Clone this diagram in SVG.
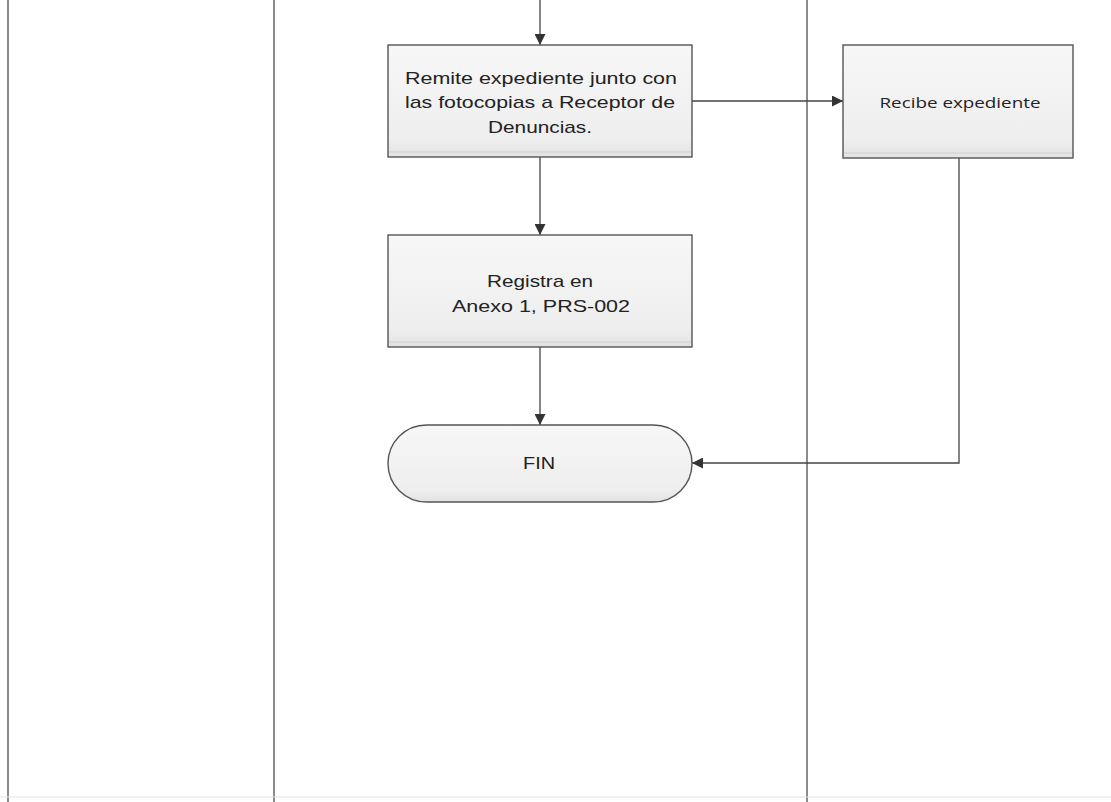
<svg xmlns="http://www.w3.org/2000/svg" width="1111" height="802" viewBox="0 0 1111 802">
  <style>
    .lane { stroke: #6e6e6e; stroke-width: 1.6; fill: none; }
    .box { fill: url(#boxFill); stroke: #555; stroke-width: 1.4; }
    .edge { stroke: #444; stroke-width: 1.3; fill: none; marker-end: url(#arrow); }
    .lbl { font-family: "Liberation Sans", Arial, sans-serif; font-size: 17px; fill: #222; text-anchor: middle; }
    .lbl2 { font-family: "Open Sans", "DejaVu Sans", sans-serif; font-size: 15px; fill: #222; text-anchor: middle; }
  </style>
  <defs>
    <linearGradient id="boxFill" x1="0" y1="0" x2="0" y2="1">
      <stop offset="0" stop-color="#f7f7f7"/>
      <stop offset="0.85" stop-color="#eeeeee"/>
      <stop offset="1" stop-color="#e2e2e2"/>
    </linearGradient>
    <marker id="arrow" viewBox="0 0 10 10" refX="10" refY="5" markerWidth="11" markerHeight="11" markerUnits="userSpaceOnUse" orient="auto">
      <path d="M0,0 L10,5 L0,10 z" fill="#333"/>
    </marker>
  </defs>
  <rect width="1111" height="802" fill="#ffffff"/>

  <!-- swimlane separators -->
  <g id="lanes">
    <line class="lane" x1="8" y1="0" x2="8" y2="802"/>
    <line class="lane" x1="274" y1="0" x2="274" y2="802"/>
    <line class="lane" x1="807" y1="0" x2="807" y2="802"/>
    <line x1="0" y1="797" x2="1111" y2="797" stroke="#e4e4e4" stroke-width="1"/>
  </g>

  <!-- connectors -->
  <g id="connectors">
    <line class="edge" x1="540" y1="0" x2="540" y2="45"/>
    <line class="edge" x1="692" y1="101" x2="843" y2="101"/>
    <line class="edge" x1="540" y1="157" x2="540" y2="235"/>
    <line class="edge" x1="540" y1="347" x2="540" y2="425"/>
    <polyline class="edge" points="959,158 959,463 692,463"/>
  </g>

  <g id="remite">
    <rect class="box" x="388" y="45" width="304" height="112"/>
    <line x1="389" y1="152" x2="691" y2="152" stroke="#cfcfcf" stroke-width="1"/>
    <text class="lbl" x="541" y="84" textLength="272" lengthAdjust="spacingAndGlyphs">Remite expediente junto con</text>
    <text class="lbl" x="540" y="108" textLength="270" lengthAdjust="spacingAndGlyphs">las fotocopias a Receptor de</text>
    <text class="lbl" x="540" y="133" textLength="104" lengthAdjust="spacingAndGlyphs">Denuncias.</text>
  </g>

  <g id="recibe">
    <rect class="box" x="843" y="45" width="230" height="113"/>
    <line x1="844" y1="153" x2="1072" y2="153" stroke="#cfcfcf" stroke-width="1"/>
    <text class="lbl2" x="960" y="108" textLength="161" lengthAdjust="spacingAndGlyphs">Recibe expediente</text>
  </g>

  <g id="registra">
    <rect class="box" x="388" y="235" width="304" height="112"/>
    <line x1="389" y1="342" x2="691" y2="342" stroke="#cfcfcf" stroke-width="1"/>
    <text class="lbl" x="540" y="287" textLength="106" lengthAdjust="spacingAndGlyphs">Registra en</text>
    <text class="lbl" x="541" y="312" textLength="178" lengthAdjust="spacingAndGlyphs">Anexo 1, PRS-002</text>
  </g>

  <g id="fin">
    <rect class="box" x="388" y="425" width="304" height="77" rx="38.5" ry="38.5"/>
    <text class="lbl" x="539" y="469" textLength="32" lengthAdjust="spacingAndGlyphs">FIN</text>
  </g>
</svg>
